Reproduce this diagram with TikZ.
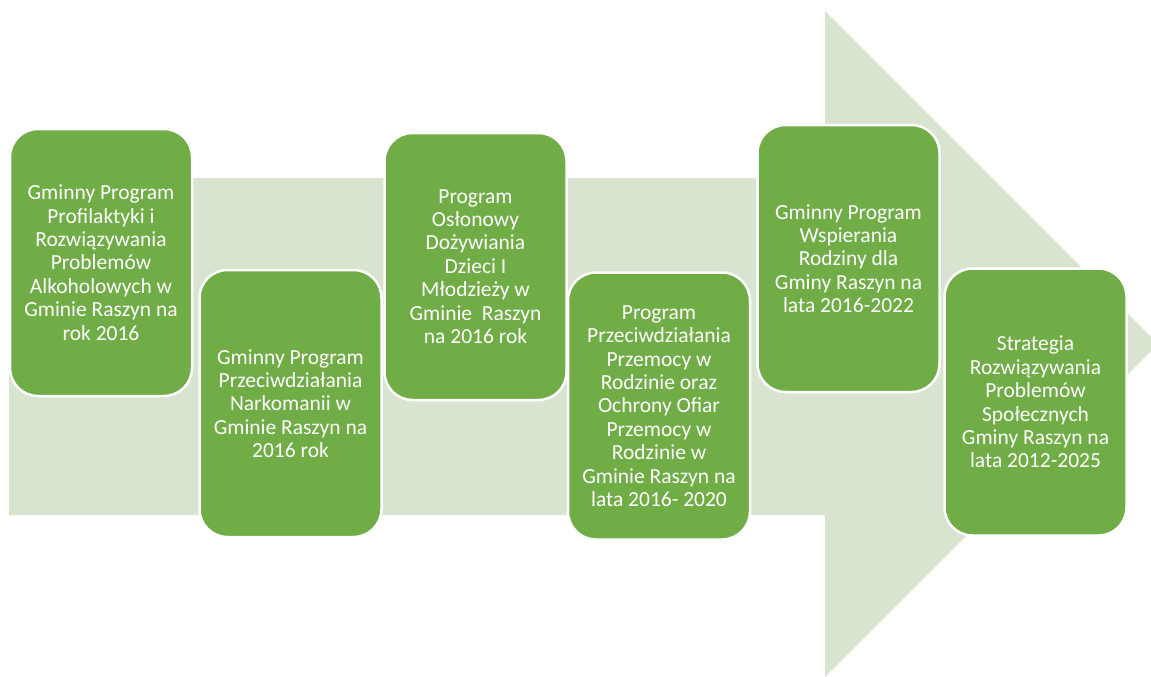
\documentclass[tikz,border=0pt]{standalone}
\usepackage{fontspec}
\setmainfont{Carlito}
\usepackage{tikz}
\definecolor{pale}{RGB}{216,228,207}
\definecolor{leaf}{RGB}{112,173,71}

\begin{document}
\begin{tikzpicture}[x=1pt, y=-1pt,
  prog/.style={rectangle, rounded corners=28pt, draw=white, line width=2.5pt,
    fill=leaf, text=white, align=center, minimum width=182pt, minimum height=267pt,
    inner sep=0pt, font=\fontsize{21.5}{23.4}\selectfont}]
\useasboundingbox (0,0) rectangle (1151,677);
\clip (0,0) rectangle (1151,677);
% big arrow behind the boxes
\fill[pale] (9,178)--(825,178)--(825,11)--(1158,344)--(825,677)--(825,515)--(9,515)--cycle;
\node[prog] (alko) at (101,262.5) {Gminny Program\\Profilaktyki i\\Rozwiązywania\\Problemów\\Alkoholowych w\\Gminie Raszyn na\\rok 2016};
\node[prog] (narko) at (290.5,403.5) {Gminny Program\\Przeciwdziałania\\Narkomanii w\\Gminie Raszyn na\\2016 rok};
\node[prog] (dozyw) at (475.5,266.5) {Program\\Osłonowy\\Dożywiania\\Dzieci I\\Młodzieży w\\Gminie\ \ Raszyn\\na 2016 rok};
\node[prog] (przem) at (659,406) {Program\\Przeciwdziałania\\Przemocy w\\Rodzinie oraz\\Ochrony Ofiar\\Przemocy w\\Rodzinie w\\Gminie Raszyn na\\lata 2016- 2020};
\node[prog] (rodz) at (848.5,258.5) {Gminny Program\\Wspierania\\Rodziny dla\\Gminy Raszyn na\\lata 2016-2022};
\node[prog] (strat) at (1035.5,402) {Strategia\\Rozwiązywania\\Problemów\\Społecznych\\Gminy Raszyn na\\lata 2012-2025};
\end{tikzpicture}
\end{document}
